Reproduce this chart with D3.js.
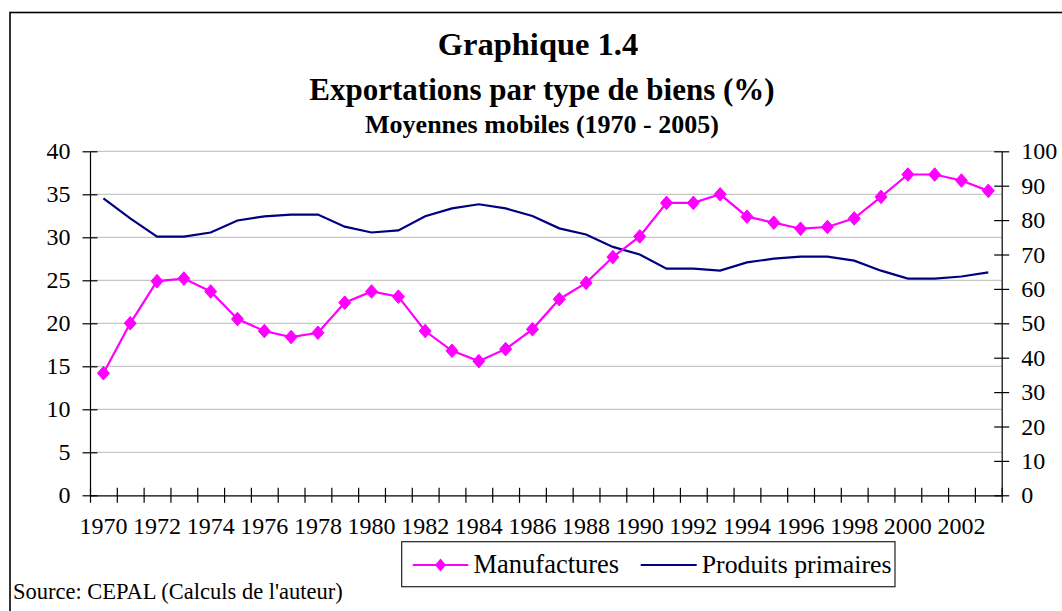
<!DOCTYPE html>
<html><head><meta charset="utf-8">
<script src="https://cdn.jsdelivr.net/npm/d3@7"></script>
<style>
html,body{margin:0;padding:0;background:#fff;}
svg{display:block;}
text{font-family:"Liberation Serif","Times New Roman",serif;fill:#000;}
</style></head>
<body>
<svg id="chart" width="1062" height="611"></svg>
<script>
const years = d3.range(1970, 2004);
const manufactures = [14.2,20.0,24.9,25.2,23.7,20.5,19.1,18.4,18.9,22.4,23.7,23.1,19.1,16.8,15.6,17.0,19.3,22.8,24.7,27.7,30.1,34.0,34.0,35.0,32.4,31.7,31.0,31.2,32.2,34.7,37.3,37.3,36.6,35.4];
const primaires = [86.3,80.5,75.2,75.2,76.4,79.9,81.1,81.6,81.6,78.1,76.4,77.0,81.1,83.4,84.6,83.4,81.2,77.6,75.8,72.2,70.0,65.9,65.9,65.3,67.7,68.8,69.4,69.4,68.2,65.3,63.0,63.0,63.6,64.8];
const leftTicks = [0,5,10,15,20,25,30,35,40];
const rightTicks = [0,10,20,30,40,50,60,70,80,90,100];
const xLabelYears = years.filter(y => y % 2 === 0);
const titles = ["Graphique 1.4", "Exportations par type de biens (%)", "Moyennes mobiles (1970 - 2005)"];
const seriesNames = ["Manufactures", "Produits primaires"];
const sourceText = "Source: CEPAL (Calculs de l'auteur)";

const svg = d3.select("#chart");
const L = 90, R = 1001.7, T = 151.3, B = 495.3;

// outer frame
svg.append("rect").attr("x", 10).attr("y", 12.5).attr("width", 1100).attr("height", 700)
  .attr("fill", "none").attr("stroke", "#000").attr("stroke-width", 1.6);

const x = d3.scaleBand().domain(years).range([L, R]).padding(0);
const xIdx = d3.scaleLinear().domain([0, years.length]).range([L, R]);
const yL = d3.scaleLinear().domain([0, 40]).range([B, T]);
const yR = d3.scaleLinear().domain([0, 100]).range([B, T]);

// gridlines
svg.append("g").selectAll("line").data(leftTicks.filter(d => d > 0)).join("line")
  .attr("x1", L).attr("x2", R).attr("y1", d => yL(d)).attr("y2", d => yL(d))
  .attr("stroke", "#c6c6c6").attr("stroke-width", 1.2);

// titles
const tSizes = [32.5, 31, 26], tY = [55, 100, 133], tX = [538, 542, 542];
svg.append("g").selectAll("text").data(titles).join("text")
  .attr("x", (d, i) => tX[i]).attr("y", (d, i) => tY[i]).attr("text-anchor", "middle")
  .attr("font-weight", "bold").attr("font-size", (d, i) => tSizes[i]).text(d => d);

function crossTicks(g, dir, len) {
  g.select(".domain").attr("stroke", "#000").attr("stroke-width", 1.2);
  g.selectAll(".tick line").attr("stroke", "#000").attr("stroke-width", 1.2);
  if (dir === "v") g.selectAll(".tick line").attr("x1", -len).attr("x2", len);
  else g.selectAll(".tick line").attr("y1", -len).attr("y2", len);
}

// left axis
const gL = svg.append("g").attr("transform", `translate(${L},0)`)
  .call(d3.axisLeft(yL).tickValues(leftTicks).tickSize(7.5).tickPadding(12).tickSizeOuter(0));
crossTicks(gL, "v", 7.5);
gL.selectAll("text").attr("font-size", 24).attr("font-family", "Liberation Serif").attr("fill", "#000");

// right axis
const gR = svg.append("g").attr("transform", `translate(${R},0)`)
  .call(d3.axisRight(yR).tickValues(rightTicks).tickSize(7.5).tickPadding(12).tickSizeOuter(0));
crossTicks(gR, "v", 7.5);
gR.selectAll("text").attr("font-size", 24).attr("font-family", "Liberation Serif").attr("fill", "#000");

// bottom axis ticks at category boundaries
const gB = svg.append("g").attr("transform", `translate(0,${B})`)
  .call(d3.axisBottom(xIdx).tickValues(d3.range(years.length + 1)).tickFormat("").tickSize(7.5).tickSizeOuter(0));
crossTicks(gB, "h", 7.5);
// bottom labels
const gBL = svg.append("g").attr("transform", `translate(0,${B})`)
  .call(d3.axisBottom(x).tickValues(xLabelYears).tickSize(0).tickPadding(22));
gBL.select(".domain").remove();
gBL.selectAll("text").attr("font-size", 24).attr("font-family", "Liberation Serif").attr("fill", "#000");

const cx = d => x(d) + x.bandwidth() / 2;

// primaires line
svg.append("path").datum(primaires)
  .attr("fill", "none").attr("stroke", "#000080").attr("stroke-width", 2.2)
  .attr("d", d3.line().x((d, i) => cx(years[i])).y(d => yR(d)));

// manufactures line
svg.append("path").datum(manufactures)
  .attr("fill", "none").attr("stroke", "#ff00ff").attr("stroke-width", 2.2)
  .attr("d", d3.line().x((d, i) => cx(years[i])).y(d => yL(d)));

const diamond = (px, py, w, h) => `M${px},${py - h}L${px + w},${py}L${px},${py + h}L${px - w},${py}Z`;
svg.append("g").selectAll("path").data(manufactures).join("path")
  .attr("d", (d, i) => diamond(cx(years[i]), yL(d), 6, 6.8))
  .attr("fill", "#ff00ff").attr("stroke", "#ff00ff").attr("stroke-width", 1);

// legend
const lg = svg.append("g");
lg.append("rect").attr("x", 401.7).attr("y", 541.7).attr("width", 493.3).attr("height", 45)
  .attr("fill", "#fff").attr("stroke", "#222").attr("stroke-width", 1.2);
lg.append("line").attr("x1", 412.7).attr("x2", 468.3).attr("y1", 565).attr("y2", 565)
  .attr("stroke", "#ff00ff").attr("stroke-width", 2.2);
lg.append("path").attr("d", diamond(440.5, 565, 5.5, 6.5)).attr("fill", "#ff00ff");
lg.append("text").attr("x", 473.5).attr("y", 573).attr("font-size", 26.5).text(seriesNames[0]);
lg.append("line").attr("x1", 640.7).attr("x2", 696.7).attr("y1", 565).attr("y2", 565)
  .attr("stroke", "#000080").attr("stroke-width", 2.2);
lg.append("text").attr("x", 701.7).attr("y", 573).attr("font-size", 25.8).text(seriesNames[1]);

// source
svg.append("text").attr("x", 13).attr("y", 599).attr("font-size", 22.5).text(sourceText);
</script>
</body></html>
